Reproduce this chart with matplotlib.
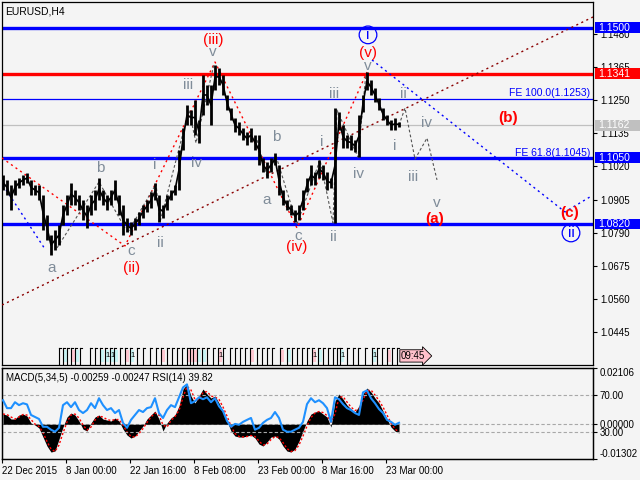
import numpy as np
import pandas as pd
import matplotlib
matplotlib.use('Agg')
import matplotlib.pyplot as plt
from matplotlib.patches import Rectangle
from matplotlib.transforms import blended_transform_factory as btf

plt.rcParams['font.family'] = ['Liberation Sans', 'DejaVu Sans']

# ---------------- data ----------------
symbol = "EURUSD,H4"
indicator_title = "MACD(5,34,5) -0.00259 -0.00247 RSI(14) 39.82"
first_bar = 3
bar_step = 4

high = [1.0990, 1.0973, 1.0955, 1.0973, 1.0980, 1.0990, 1.0997, 1.0973, 1.0955, 1.0955,
        1.0921, 1.0851, 1.0782, 1.0799, 1.0816, 1.0886, 1.0921, 1.0962, 1.0938, 1.0921,
        1.0903, 1.0886, 1.0921, 1.0938, 1.0980, 1.0938, 1.0921, 1.0938, 1.0973, 1.0921,
        1.0886, 1.0841, 1.0827, 1.0841, 1.0862, 1.0886, 1.0903, 1.0931, 1.0962, 1.0921,
        1.0886, 1.0921, 1.0938, 1.0955, 1.1077, 1.1153, 1.1233, 1.1215, 1.1250, 1.1181,
        1.1337, 1.1302, 1.1302, 1.1372, 1.1361, 1.1337, 1.1268, 1.1222, 1.1188, 1.1174,
        1.1153, 1.1139, 1.1153, 1.1129, 1.1129, 1.1049, 1.1035, 1.1049, 1.1066, 1.1025,
        1.0938, 1.0903, 1.0886, 1.0868, 1.0886, 1.0938, 1.0980, 1.1025, 1.1000, 1.1042,
        1.1025, 1.1000, 1.0980, 1.1222, 1.1208, 1.1163, 1.1129, 1.1129, 1.1111, 1.1198,
        1.1268, 1.1347, 1.1320, 1.1292, 1.1257, 1.1222, 1.1198, 1.1181, 1.1188, 1.1174]
low = [1.0938, 1.0921, 1.0868, 1.0921, 1.0945, 1.0955, 1.0962, 1.0921, 1.0921, 1.0903,
       1.0799, 1.0764, 1.0712, 1.0730, 1.0747, 1.0816, 1.0851, 1.0886, 1.0886, 1.0868,
       1.0834, 1.0806, 1.0851, 1.0868, 1.0903, 1.0886, 1.0868, 1.0886, 1.0903, 1.0851,
       1.0782, 1.0792, 1.0782, 1.0799, 1.0816, 1.0841, 1.0862, 1.0876, 1.0903, 1.0827,
       1.0841, 1.0868, 1.0903, 1.0921, 1.0938, 1.1077, 1.1163, 1.1163, 1.1129, 1.1101,
       1.1198, 1.1233, 1.1163, 1.1285, 1.1302, 1.1268, 1.1215, 1.1181, 1.1139, 1.1129,
       1.1111, 1.1094, 1.1104, 1.1077, 1.1025, 1.1000, 1.0980, 1.1000, 1.1025, 1.0921,
       1.0886, 1.0868, 1.0851, 1.0827, 1.0834, 1.0868, 1.0931, 1.0955, 1.0955, 1.0980,
       1.0973, 1.0938, 1.0945, 1.0824, 1.1146, 1.1084, 1.1084, 1.1077, 1.1070, 1.1052,
       1.1208, 1.1285, 1.1268, 1.1243, 1.1215, 1.1181, 1.1163, 1.1146, 1.1146, 1.1157]

macd = [0.00382, 0.00345, 0.00195, 0.00195, 0.00345, 0.00382, 0.00307, 0.00045, -0.00030, -0.00142,
        -0.00479, -0.00816, -0.01041, -0.01004, -0.00554, -0.00105, 0.00270, 0.00419, 0.00345, 0.00120,
        -0.00180, -0.00255, 0.00045, 0.00270, 0.00345, 0.00195, 0.00157, 0.00120, 0.00232, 0.00120,
        -0.00180, -0.00404, -0.00517, -0.00442, -0.00255, -0.00067, 0.00195, 0.00345, 0.00494, 0.00195,
        -0.00255, 0.00045, 0.00232, 0.00345, 0.00682, 0.01318, 0.01506, 0.01056, 0.00794, 0.01056,
        0.01318, 0.01131, 0.00981, 0.01056, 0.00794, 0.00494, 0.00120, -0.00255, -0.00442, -0.00479,
        -0.00479, -0.00442, -0.00404, -0.00517, -0.00742, -0.00816, -0.00667, -0.00479, -0.00442, -0.00554,
        -0.00816, -0.01004, -0.01041, -0.00929, -0.00629, -0.00255, 0.00120, 0.00382, 0.00457, 0.00494,
        0.00382, 0.00270, -0.00105, 0.00869, 0.01131, 0.00944, 0.00719, 0.00569, 0.00457, 0.00682,
        0.01131, 0.01356, 0.01206, 0.00981, 0.00794, 0.00494, 0.00195, -0.00105, -0.00255, -0.00330]

rsi = [64.6, 55.9, 55.9, 62.4, 59.2, 61.3, 60.0, 48.4, 46.2, 44.0,
       35.4, 35.4, 32.2, 30.0, 34.3, 59.2, 62.4, 57.0, 62.4, 53.8,
       50.5, 53.8, 61.3, 55.9, 66.8, 59.2, 53.8, 55.9, 50.5, 53.8,
       39.7, 34.3, 43.0, 48.4, 53.8, 51.6, 55.9, 57.0, 66.8, 50.5,
       45.1, 53.8, 59.2, 57.0, 67.8, 78.6, 82.0, 61.3, 63.5, 67.8,
       65.7, 67.8, 62.4, 66.8, 58.0, 52.7, 41.9, 35.4, 38.6, 37.6,
       40.8, 43.0, 45.1, 32.2, 34.3, 39.7, 43.0, 45.1, 51.6, 45.1,
       32.2, 30.0, 30.0, 32.2, 34.3, 40.8, 60.3, 66.8, 62.4, 64.6,
       61.3, 55.9, 40.8, 67.8, 65.7, 60.3, 55.9, 53.8, 50.5, 48.4,
       73.2, 75.4, 66.8, 61.3, 54.9, 50.5, 43.0, 40.8, 37.6, 39.8]

price_ticks = [1.1480, 1.1365, 1.1250, 1.1135, 1.1020, 1.0905, 1.0790, 1.0675, 1.0560, 1.0445]
levels = [1.1500, 1.1341, 1.1253, 1.1162, 1.1050, 1.0820]
level_colors = ['#0000ff', '#ff0000', '#0000ff', '#c0c0c0', '#0000ff', '#0000ff']
level_widths = [2.4, 2.4, 0.9, 0.9, 2.4, 2.4]
boxed_levels = [1.1500, 1.1341, 1.1162, 1.1050, 1.0820]
boxed_colors = ['#0000ff', '#ff0000', '#c0c0c0', '#0000ff', '#0000ff']

date_bars = [2, 66, 130, 194, 258, 322, 386]
date_labels = ['22 Dec 2015', '8 Jan 00:00', '22 Jan 16:00', '8 Feb 08:00',
               '23 Feb 00:00', '8 Mar 16:00', '23 Mar 00:00']

# wave paths (bar, price)
red_path_bars = [2, 125, 215, 297, 367]
red_path_prices = [1.1049, 1.0744, 1.1382, 1.0806, 1.1347]
grey_paths = [
    ([57, 99, 125], [1.0737, 1.0966, 1.0806]),
    ([128, 156, 160, 189, 196, 214], [1.0792, 1.0959, 1.0827, 1.1215, 1.1101, 1.1375]),
    ([257, 267, 276, 297], [1.1111, 1.0986, 1.1056, 1.0820]),
    ([297, 320, 333, 337, 358, 366], [1.0820, 1.1042, 1.0824, 1.1215, 1.1052, 1.1344]),
    ([399, 405, 415, 427, 437], [1.1163, 1.1222, 1.1045, 1.1118, 1.0973]),
]
blue_path_bars = [372, 565, 590]
blue_path_prices = [1.1389, 1.0862, 1.0914]
blue_left_bars = [3, 45]
blue_left_prices = [1.0955, 1.0733]
trend_bars = [2, 593]
trend_prices = [1.0539, 1.1538]

grey_labels = [('a', 52, 1.0667), ('b', 100, 1.1014), ('c', 131, 1.0727), ('i', 155, 1.1025),
               ('ii', 160, 1.0754), ('iii', 188, 1.1302), ('iv', 196, 1.1032), ('v', 213, 1.1417),
               ('a', 267, 1.0903), ('b', 276, 1.1122), ('c', 298, 1.0778), ('i', 322, 1.1104),
               ('ii', 333, 1.0775), ('iii', 334, 1.1272), ('iv', 358, 1.0994), ('v', 368, 1.1369),
               ('i', 395, 1.1091), ('ii', 403, 1.1272), ('iii', 413, 1.0983), ('iv', 426, 1.1170),
               ('v', 437, 1.0894)]
red_labels = [('(iii)', 213, 1.1458), ('(ii)', 132, 1.0667), ('(iv)', 297, 1.0740), ('(v)', 368, 1.1414)]
bold_labels = [('(a)', 435, 1.0838), ('(b)', 508, 1.1188), ('(c)', 570, 1.0858)]
circled_labels = [('i', 368, 1.1476), ('ii', 571, 1.0789)]
fe_labels = [('FE 100.0(1.1253)', 1.1274), ('FE 61.8(1.1045)', 1.1067)]

event_bars = [59, 63, 67, 71, 75, 80, 90, 95, 100, 105, 110, 114, 120, 125, 130, 137, 143, 150,
              156, 161, 167, 172, 177, 182, 187, 190, 193, 197, 202, 207, 213, 218, 223, 230,
              235, 240, 245, 250, 257, 262, 267, 272, 280, 287, 292, 297, 302, 307, 312, 318,
              323, 328, 333, 337, 340, 347, 353, 358, 365, 372, 377, 382, 387, 392, 397]
event_kinds = ['', 'c', '', 'p', 'c', '', '', '', 'c', 'c1', 'c1', 'c', '', 'p', 'c1', '', '', '',
               '', 'p', '', '', '', '', 'p', 'p', 'p', 'c', 'c', '', '', 'p1', '', '',
               '', '', '', 'p', '', '', '', '', 'p', 'c', '', '', '', '', 'p1', 'c',
               '', '', '', '', 'c1', '', '', '', '', 'c1', '', '', 'p', '', '']
clock_bar = 400
clock_text = '09:45'

# ---------------- figure ----------------
bg = '#f4f4f4'
fig = plt.figure(figsize=(6.4, 4.8), dpi=100, facecolor=bg)
ax = fig.add_axes([2/640, 1-365/480, 591/640, 363/480], facecolor=bg)
ax2 = fig.add_axes([2/640, 1-459/480, 591/640, 91/480], facecolor=bg)

bars = first_bar + bar_step*np.arange(len(high))
hi = np.array(high); lo = np.array(low)

ax.set_xlim(2, 593)
ax.set_ylim(1.0331, 1.1590)

for lv, c, w in zip(levels, level_colors, level_widths):
    ax.axhline(lv, color=c, lw=w, zorder=2)

ax.plot(trend_bars, trend_prices, color='#8b0000', lw=1.0, ls=(0, (1.5, 2.5)), zorder=3)
ax.plot(blue_left_bars, blue_left_prices, color='#0000ff', lw=1.0, ls=(0, (1.5, 2.5)), zorder=3)
ax.plot(blue_path_bars, blue_path_prices, color='#0000ff', lw=1.0, ls=(0, (1.5, 2.5)), zorder=3)
ax.plot(red_path_bars, red_path_prices, color='#ff0000', lw=1.0, ls=(0, (1.5, 2.5)), zorder=3)
for bx, py in grey_paths:
    ax.plot(bx, py, color='#555555', lw=0.8, ls=(0, (2.5, 2)), zorder=3)

ax.vlines(bars, lo, hi, color='black', lw=2.0, zorder=4)
ax.plot(bars, (hi+lo)/2, color='black', lw=1.2, zorder=4)

for t, x, y in grey_labels:
    ax.text(x, y, t, color='#7f8c99', fontsize=11, ha='center', va='center', zorder=6)
for t, x, y in red_labels:
    ax.text(x, y, t, color='#ff0000', fontsize=11, ha='center', va='center', zorder=6)
for t, x, y in bold_labels:
    ax.text(x, y, t, color='#ff0000', fontsize=11, fontweight='bold', ha='center', va='center', zorder=6)
for t, x, y in circled_labels:
    ax.text(x, y, t, color='#0000ff', fontsize=11, ha='center', va='center', zorder=6,
            bbox=dict(boxstyle='circle,pad=0.12', fc='none', ec='#0000ff', lw=0.9))
for t, y in fe_labels:
    ax.text(590, y, t, color='#0000ff', fontsize=7.5, ha='right', va='center', zorder=6)

ax.text(5, 1.1558, symbol, fontsize=7.5, ha='left', va='center', color='black')

# events row
tr = btf(ax.transData, ax.transAxes)
ecol = {'c': '#c8f4f4', 'p': '#ffc8d2'}
for x, k in zip(event_bars, event_kinds):
    if k:
        ax.add_patch(Rectangle((x + 0.5, 0.008), 3.2, 0.034, transform=tr, fc=ecol[k[0]],
                               ec='none', zorder=4))
        if k.endswith('1'):
            ax.text(x + 2.2, 0.025, '1', transform=tr, fontsize=5.5, ha='center', va='center', zorder=5)
    ax.plot([x, x], [0.003, 0.046], color='black', lw=0.8, transform=tr, zorder=5)
    ax.plot([x, x + 2], [0.046, 0.046], color='black', lw=0.8, transform=tr, zorder=5)
ax.text(clock_bar + 1, 0.025, clock_text, transform=tr, fontsize=7, ha='left', va='center', zorder=6,
        bbox=dict(boxstyle='rarrow,pad=0.12', fc='#ffc0cb', ec='black', lw=0.6))

ax.yaxis.tick_right()
ax.set_yticks(price_ticks)
ax.set_yticklabels(['%.4f' % v for v in price_ticks])
ax.tick_params(axis='y', length=3, width=0.8, labelsize=7, pad=2, colors='black')
ax.set_xticks([])
for s in ax.spines.values():
    s.set_color('black'); s.set_linewidth(0.9)

trb = btf(ax.transAxes, ax.transData)
for lv, c in zip(boxed_levels, boxed_colors):
    ax.add_patch(Rectangle((1.0034, lv - 0.0019), 0.08, 0.0038, transform=trb, fc=c, ec='none',
                           clip_on=False, zorder=10))
    ax.text(1.0085, lv, '%.4f' % lv, transform=trb, color='white', fontsize=7.5, ha='left',
            va='center', clip_on=False, zorder=11)

# indicator panel
m = np.array(macd)
signal = pd.Series(m).rolling(2, min_periods=1).mean().values
ax2.set_xlim(2, 593)
ax2.set_ylim(-0.01302, 0.02106)
ax2.fill_between(bars, 0, m, color='black', lw=0, zorder=3)
ax2.plot(bars, signal, color='#ff0000', lw=1.0, ls=(0, (1.5, 1.5)), zorder=4)
ax2.axhline(0, color='#a8a8a8', lw=0.8, ls=(0, (3, 2)), zorder=1)

ax3 = ax2.twinx()
ax3.set_ylim(0, 100)
ax3.axhline(70, color='#a8a8a8', lw=0.8, ls=(0, (3, 2)), zorder=1)
ax3.axhline(30, color='#a8a8a8', lw=0.8, ls=(0, (3, 2)), zorder=1)
ax3.plot(bars, rsi, color='#1e90ff', lw=1.5, zorder=5)
ax3.set_yticks([70, 30])
ax3.set_yticklabels(['70.00', '30.00'])
ax3.tick_params(axis='y', length=3, width=0.8, labelsize=7, pad=2)

ax2.yaxis.tick_right()
ax2.yaxis.set_label_position('right')
mt = [0.02106, 0.0, -0.01302]
ax2.set_yticks(mt)
ax2.set_yticklabels(['%.5f' % v for v in mt])
ax2.tick_params(axis='y', length=3, width=0.8, labelsize=7, pad=2, left=False, labelleft=False,
                right=True, labelright=True)
labs = ax2.get_yticklabels()
labs[0].set_va('top'); labs[2].set_va('bottom')
ax2.set_xticks(date_bars)
ax2.set_xticklabels(date_labels, ha='left')
ax2.tick_params(axis='x', length=3, width=0.8, labelsize=7, pad=2)

ax2.text(0.006, 0.89, indicator_title, transform=ax2.transAxes, fontsize=7, ha='left', va='center')
for a in (ax2, ax3):
    for s in a.spines.values():
        s.set_color('black'); s.set_linewidth(0.9)

fig.savefig('out.png', dpi=100, facecolor=bg)
